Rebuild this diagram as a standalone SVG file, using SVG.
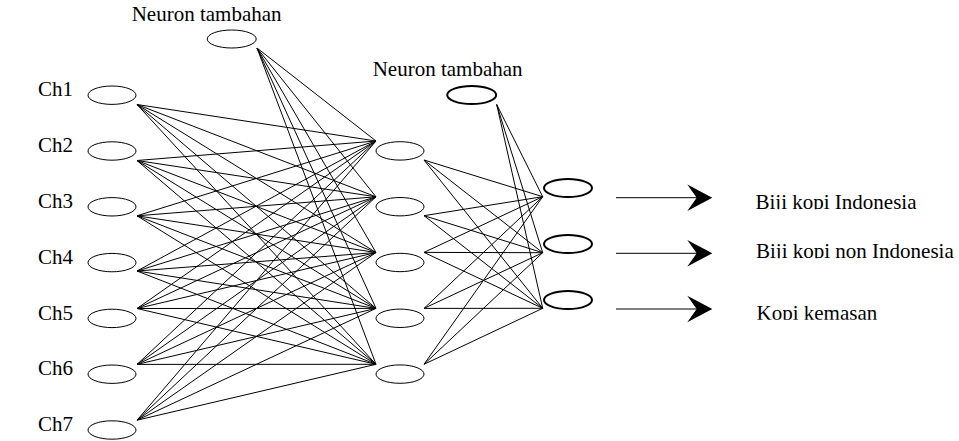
<svg xmlns="http://www.w3.org/2000/svg" width="959" height="441" viewBox="0 0 959 441">
<style>
.bg{fill:#fff}
.nd{fill:#fff;stroke:#000;stroke-width:1}
.nd2{fill:#fff;stroke:#000;stroke-width:2}
.ln line{stroke:#000;stroke-width:1}
.shaft{stroke:#555;stroke-width:1}
.tx{font-family:"Liberation Serif","Times New Roman",serif;font-size:21px;fill:#000}
</style>
<defs>
<clipPath id="c1"><rect x="740" y="180" width="219" height="29.3"/></clipPath>
<clipPath id="c2"><rect x="740" y="236" width="219" height="22.3"/></clipPath>
<clipPath id="c3"><rect x="740" y="292" width="219" height="27.8"/></clipPath>
<path id="ah" d="M0,0 L-25,-13.3 L-15.6,0 L-25,13.3 Z"/>
</defs>
<rect class="bg" x="0" y="0" width="959" height="441"/>
<g id="connectors" class="ln">
<line x1="137" y1="104.5" x2="376" y2="141"/><line x1="137" y1="104.5" x2="376" y2="196.8"/><line x1="137" y1="104.5" x2="376" y2="252.5"/><line x1="137" y1="104.5" x2="376" y2="308.4"/><line x1="137" y1="104.5" x2="376" y2="364.3"/>
<line x1="137" y1="160.5" x2="376" y2="141"/><line x1="137" y1="160.5" x2="376" y2="196.8"/><line x1="137" y1="160.5" x2="376" y2="252.5"/><line x1="137" y1="160.5" x2="376" y2="308.4"/><line x1="137" y1="160.5" x2="376" y2="364.3"/>
<line x1="137" y1="215.8" x2="376" y2="141"/><line x1="137" y1="215.8" x2="376" y2="196.8"/><line x1="137" y1="215.8" x2="376" y2="252.5"/><line x1="137" y1="215.8" x2="376" y2="308.4"/><line x1="137" y1="215.8" x2="376" y2="364.3"/>
<line x1="137" y1="271" x2="376" y2="141"/><line x1="137" y1="271" x2="376" y2="196.8"/><line x1="137" y1="271" x2="376" y2="252.5"/><line x1="137" y1="271" x2="376" y2="308.4"/><line x1="137" y1="271" x2="376" y2="364.3"/>
<line x1="137" y1="308.5" x2="376" y2="141"/><line x1="137" y1="308.5" x2="376" y2="196.8"/><line x1="137" y1="308.5" x2="376" y2="252.5"/><line x1="137" y1="308.5" x2="376" y2="308.4"/><line x1="137" y1="308.5" x2="376" y2="364.3"/>
<line x1="137" y1="364.4" x2="376" y2="141"/><line x1="137" y1="364.4" x2="376" y2="196.8"/><line x1="137" y1="364.4" x2="376" y2="252.5"/><line x1="137" y1="364.4" x2="376" y2="308.4"/><line x1="137" y1="364.4" x2="376" y2="364.3"/>
<line x1="137" y1="420.2" x2="376" y2="141"/><line x1="137" y1="420.2" x2="376" y2="196.8"/><line x1="137" y1="420.2" x2="376" y2="252.5"/><line x1="137" y1="420.2" x2="376" y2="308.4"/><line x1="137" y1="420.2" x2="376" y2="364.3"/>
<line x1="257" y1="48" x2="376" y2="141"/><line x1="257" y1="48" x2="376" y2="196.8"/><line x1="257" y1="48" x2="376" y2="252.5"/><line x1="257" y1="48" x2="376" y2="308.4"/><line x1="257" y1="48" x2="376" y2="364.3"/>
<line x1="424" y1="160" x2="542.7" y2="196.7"/><line x1="424" y1="160" x2="542.7" y2="252.7"/><line x1="424" y1="160" x2="542.7" y2="308.3"/>
<line x1="424" y1="215.7" x2="542.7" y2="196.7"/><line x1="424" y1="215.7" x2="542.7" y2="252.7"/><line x1="424" y1="215.7" x2="542.7" y2="308.3"/>
<line x1="424" y1="252.4" x2="542.7" y2="196.7"/><line x1="424" y1="252.4" x2="542.7" y2="252.7"/><line x1="424" y1="252.4" x2="542.7" y2="308.3"/>
<line x1="424" y1="308.4" x2="542.7" y2="196.7"/><line x1="424" y1="308.4" x2="542.7" y2="252.7"/><line x1="424" y1="308.4" x2="542.7" y2="308.3"/>
<line x1="424" y1="364.3" x2="542.7" y2="196.7"/><line x1="424" y1="364.3" x2="542.7" y2="252.7"/><line x1="424" y1="364.3" x2="542.7" y2="308.3"/>
<line x1="496.7" y1="104.5" x2="542.7" y2="196.7"/><line x1="496.7" y1="104.5" x2="542.7" y2="252.7"/><line x1="496.7" y1="104.5" x2="542.7" y2="308.3"/>
<line class="shaft" x1="616" y1="197.7" x2="697" y2="197.7"/>
<line class="shaft" x1="616" y1="253.3" x2="697" y2="253.3"/>
<line class="shaft" x1="616" y1="309" x2="697" y2="309"/>
<use href="#ah" x="712.3" y="197.7"/>
<use href="#ah" x="712.3" y="253.3"/>
<use href="#ah" x="712.3" y="309"/>
</g>
<g id="in1"><ellipse class="nd" cx="112" cy="95.2" rx="24" ry="9.2"/><text class="tx" x="38" y="96">Ch1</text></g>
<g id="in2"><ellipse class="nd" cx="112" cy="151" rx="24" ry="9.2"/><text class="tx" x="38" y="152">Ch2</text></g>
<g id="in3"><ellipse class="nd" cx="112" cy="206.8" rx="24" ry="9.2"/><text class="tx" x="38" y="208">Ch3</text></g>
<g id="in4"><ellipse class="nd" cx="112" cy="262.6" rx="24" ry="9.2"/><text class="tx" x="38" y="263.5">Ch4</text></g>
<g id="in5"><ellipse class="nd" cx="112" cy="318.4" rx="24" ry="9.2"/><text class="tx" x="38" y="319.5">Ch5</text></g>
<g id="in6"><ellipse class="nd" cx="112" cy="374.2" rx="24" ry="9.2"/><text class="tx" x="38" y="375">Ch6</text></g>
<g id="in7"><ellipse class="nd" cx="112" cy="430" rx="24" ry="9.2"/><text class="tx" x="38" y="431">Ch7</text></g>
<g id="bias1"><ellipse class="nd" cx="231.7" cy="39" rx="24.5" ry="9"/><text class="tx" x="131.7" y="20.7">Neuron tambahan</text></g>
<g id="h1"><ellipse class="nd" cx="400" cy="150.9" rx="24" ry="9.2"/></g>
<g id="h2"><ellipse class="nd" cx="400" cy="206.7" rx="24" ry="9.2"/></g>
<g id="h3"><ellipse class="nd" cx="400" cy="262.5" rx="24" ry="9.2"/></g>
<g id="h4"><ellipse class="nd" cx="400" cy="318.3" rx="24" ry="9.2"/></g>
<g id="h5"><ellipse class="nd" cx="400" cy="374.1" rx="24" ry="9.2"/></g>
<g id="bias2"><ellipse class="nd2" cx="471.7" cy="95" rx="24.5" ry="9"/><text class="tx" x="372.7" y="76">Neuron tambahan</text></g>
<g id="o1"><ellipse class="nd2" cx="568" cy="188" rx="24" ry="9"/></g>
<g id="o2"><ellipse class="nd2" cx="568" cy="244" rx="24" ry="9"/></g>
<g id="o3"><ellipse class="nd2" cx="568" cy="300" rx="24" ry="9"/></g>
<g id="lbl1"><text class="tx" x="755.5" y="209" clip-path="url(#c1)">Biji kopi Indonesia</text></g>
<g id="lbl2"><text class="tx" x="756" y="257.8" clip-path="url(#c2)">Biji kopi non Indonesia</text></g>
<g id="lbl3"><text class="tx" x="756.5" y="319.5" clip-path="url(#c3)">Kopi kemasan</text></g>
</svg>
